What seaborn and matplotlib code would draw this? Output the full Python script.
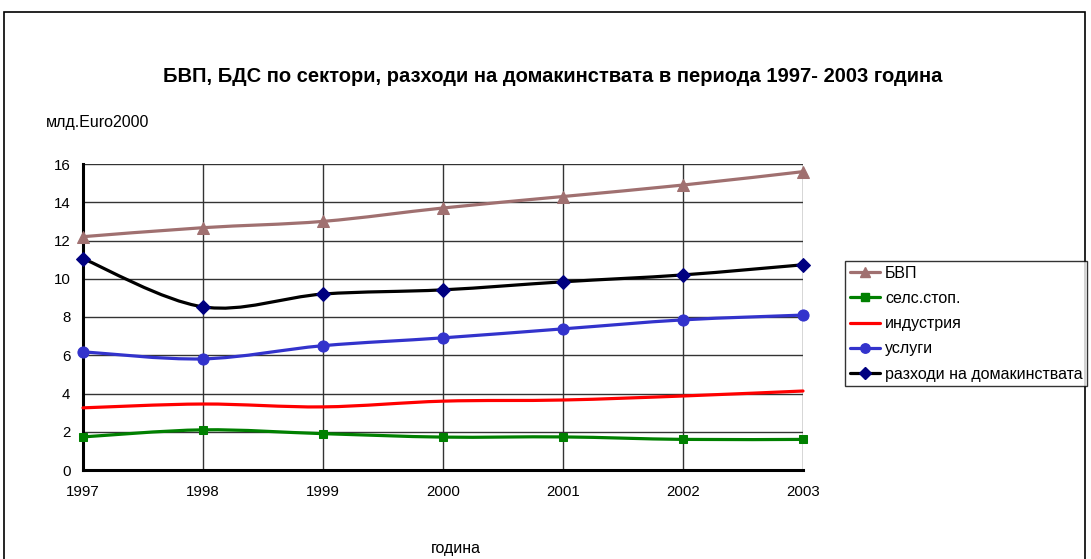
import numpy as np
import pandas as pd
import seaborn as sns
import matplotlib
matplotlib.use("Agg")
import matplotlib.pyplot as plt
from matplotlib.path import Path
from matplotlib.patches import PathPatch, Rectangle
from matplotlib.lines import Line2D

years = [1997, 1998, 1999, 2000, 2001, 2002, 2003]
bvp = [12.2, 12.67, 13.0, 13.7, 14.3, 14.9, 15.6]
agri = [1.73, 2.1, 1.9, 1.72, 1.73, 1.6, 1.6]
industry = [3.25, 3.45, 3.3, 3.6, 3.66, 3.87, 4.13]
services = [6.18, 5.81, 6.5, 6.91, 7.38, 7.85, 8.1]
households = [11.05, 8.53, 9.2, 9.42, 9.84, 10.2, 10.73]

labels = ["БВП", "селс.стоп.", "индустрия", "услуги", "разходи на домакинствата"]
series = [bvp, agri, industry, services, households]
line_colors = ["#A07070", "#008000", "#FF0000", "#3333CC", "#000000"]
marker_colors = ["#A07070", "#008000", None, "#3333CC", "#000080"]
markers = ["^", "s", None, "o", "D"]
msizes = [8, 6, 0, 8, 7]

sns.set_style("white")
plt.rcParams["font.family"] = ["Liberation Sans", "DejaVu Sans"]
plt.rcParams["text.color"] = "black"
plt.rcParams["xtick.color"] = "black"
plt.rcParams["ytick.color"] = "black"

fig = plt.figure(figsize=(10.91, 5.59), dpi=100)
ax = fig.add_axes([83 / 1091, 1 - 470 / 559, (803 - 83) / 1091, (470 - 164) / 559])


def smooth_path(xs, ys):
    # Cardinal-spline Bezier path through the points (spreadsheet-style smoothing)
    pts = np.column_stack([xs, ys]).astype(float)
    n = len(pts)
    verts = [pts[0]]
    codes = [Path.MOVETO]
    for i in range(n - 1):
        p0 = pts[i - 1] if i > 0 else pts[i]
        p1 = pts[i]
        p2 = pts[i + 1]
        p3 = pts[i + 2] if i + 2 < n else pts[i + 1]
        c1 = p1 + (p2 - p0) / 6.0
        c2 = p2 - (p3 - p1) / 6.0
        verts += [c1, c2, p2]
        codes += [Path.CURVE4] * 3
    return Path(verts, codes)


handles = []
for lab, vals, lc, mc, mk, ms in zip(labels, series, line_colors, marker_colors, markers, msizes):
    ax.add_patch(PathPatch(smooth_path(years, vals), fill=False, edgecolor=lc,
                           lw=2.3, zorder=3, capstyle="round", joinstyle="round",
                           clip_on=False))
    if mk is not None:
        df = pd.DataFrame({"year": years, "value": vals})
        sns.lineplot(data=df, x="year", y="value", ax=ax, linestyle="none",
                     marker=mk, markersize=ms, color=mc, markeredgecolor=mc,
                     zorder=4, clip_on=False)
    handles.append(Line2D([0], [0], color=lc, lw=2.3, marker=mk if mk else None,
                          markersize=ms * 0.85, markerfacecolor=mc, markeredgecolor=mc))

ax.set_xlim(1997, 2003)
ax.set_ylim(0, 16)
ax.set_xticks(years)
ax.set_yticks(range(0, 17, 2))
ax.grid(True, color="#333333", lw=1.0)
ax.set_axisbelow(True)
ax.set_xlabel("")
ax.set_ylabel("")
for s in ["top", "right"]:
    ax.spines[s].set_visible(False)
for s in ["left", "bottom"]:
    ax.spines[s].set_color("black")
    ax.spines[s].set_linewidth(2.2)
ax.tick_params(axis="both", direction="out", length=5, width=1.5, color="black",
               labelcolor="black", labelsize=10.8, pad=6)
ax.tick_params(axis="y", pad=4)

fig.text(553 / 1091, 1 - 77 / 559, "БВП, БДС по сектори, разходи на домакинствата в периода 1997- 2003 година",
         ha="center", va="center", fontsize=14.5, fontweight="bold")
fig.text(46 / 1091, 1 - 123 / 559, "млд.Euro2000", ha="left", va="center", fontsize=11.5)
fig.text(456 / 1091, 1 - 549 / 559, "година", ha="center", va="center", fontsize=11.5)

leg = fig.legend(handles, labels, loc="upper left", bbox_to_anchor=(845 / 1091, 1 - 261 / 559),
                 frameon=True, fancybox=False, edgecolor="black", fontsize=11.5,
                 handlelength=1.9, handletextpad=0.3, labelspacing=0.64,
                 borderpad=0.3, borderaxespad=0)
leg.get_frame().set_linewidth(1.0)

fig.patches.append(Rectangle((4 / 1091, -0.05), (1085 - 4) / 1091, 1.05 - 12 / 559,
                             transform=fig.transFigure, fill=False, edgecolor="black", lw=1.2))

fig.savefig("out.png", dpi=100)
